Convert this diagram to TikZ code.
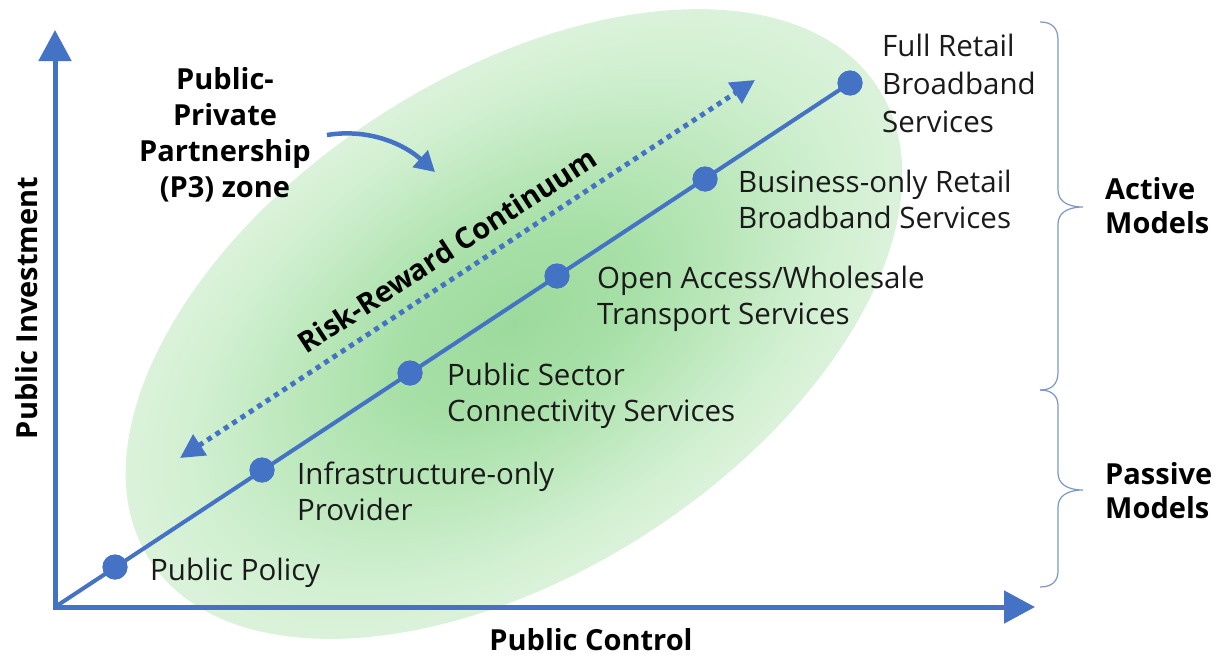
\documentclass[tikz,border=0pt]{standalone}
\usepackage{fontspec}
\setmainfont{Open Sans}
\usetikzlibrary{arrows.meta}
\definecolor{axblue}{HTML}{4472C4}
\definecolor{gA}{RGB}{156,218,156}
\definecolor{gA2}{RGB}{168,224,168}
\definecolor{gB}{RGB}{210,240,210}
\definecolor{gB2}{RGB}{238,248,238}
\definecolor{gC}{RGB}{247,252,247}
\definecolor{txt}{HTML}{1A1A1A}
\definecolor{bracec}{HTML}{7F97C8}
\pgfdeclareradialshading{pthree}{\pgfpoint{0bp}{0bp}}{color(0bp)=(gA); color(8bp)=(gA2); color(21bp)=(gB); color(34bp)=(gB2); color(50bp)=(gC)}
\begin{document}
\begin{tikzpicture}[x=1pt,y=-1pt,
  lbl/.style={font=\fontsize{29.5}{36}\selectfont, text=txt, inner sep=0pt, align=left, anchor=base west},
  boldlbl/.style={font=\fontsize{29}{36}\selectfont\bfseries, text=black, inner sep=0pt},
  dot/.style={circle, fill=axblue, minimum size=25pt, inner sep=0pt},
  axis/.style={draw=axblue, line width=5pt, {Triangle[length=31pt,width=32pt]}-{Triangle[length=31pt,width=32pt]}},
  bracepath/.style={draw=bracec, line width=1.2pt},
]
\fill[white] (0,0) rectangle (1222,656);
\useasboundingbox (0,0) rectangle (1222,656);
\begin{scope}[transform canvas={shift={(514pt,-324pt)},rotate=33}]
  \shade[shading=pthree] (0,0) ellipse [x radius=434, y radius=248];
\end{scope}

% axes
\coordinate (O) at (55,607);
\coordinate (ytip) at (55,30);
\coordinate (xtip) at (1035,607);
\draw[axis] (ytip) -- (O) -- (xtip);

% dotted risk-reward arrow
\coordinate (rrA) at (180,458);
\coordinate (rrB) at (755,80);
\draw[axblue, line width=5pt, dash pattern=on 5pt off 5pt,
  {Triangle[length=24pt,width=24pt]}-{Triangle[length=24pt,width=24pt]}] (rrA) -- (rrB);
\node[boldlbl, rotate=33] (rr) at (447,250) {Risk-Reward Continuum};

% main line and dots
\node[dot] (d1) at (115,567) {};
\node[dot] (d2) at (262,470) {};
\node[dot] (d3) at (410,373) {};
\node[dot] (d4) at (557,276) {};
\node[dot] (d5) at (705,179) {};
\node[dot] (d6) at (850,83) {};
\draw[axblue, line width=4pt] (O) -- (d6.center);
\foreach \n in {d1,d2,d3,d4,d5,d6} \fill[axblue] (\n) circle (12.5);

% labels (anchor at baseline of the last line)
\node[lbl] (l1) at (150,580) {Public Policy};
\node[lbl] (l2) at (297,520) {Infrastructure-only\\Provider};
\node[lbl] (l3) at (447,421) {Public Sector\\Connectivity Services};
\node[lbl] (l4) at (597,324) {Open Access/Wholesale\\Transport Services};
\node[lbl] (l5) at (738,228) {Business-only Retail\\Broadband Services};
\node[lbl, font=\fontsize{29.5}{38}\selectfont] (l6) at (882,132) {Full Retail\\Broadband\\Services};

% P3 label and arrow
\node[boldlbl, align=center, anchor=base] (p3) at (225,197) {Public-\\Private\\Partnership\\(P3) zone};
\coordinate (caS) at (327,135);
\coordinate (caE) at (435,172);
\draw[axblue, line width=4.5pt, -{Triangle[length=20pt,width=22pt]}] (caS) .. controls (370,128) and (405,145) .. (caE);

% axis labels
\node[boldlbl, anchor=base] (xl) at (591,650) {Public Control};
\node[boldlbl, anchor=base, rotate=90] (yl) at (37,308) {Public Investment};

% braces
\draw[bracepath] (1040,22) .. controls (1052,22) and (1058,28) .. (1058,40) -- (1058,190)
  .. controls (1058,200) and (1066,207) .. (1083,207)
  .. controls (1066,207) and (1058,214) .. (1058,224) -- (1058,372)
  .. controls (1058,384) and (1052,390) .. (1040,390);
\draw[bracepath] (1040,390) .. controls (1052,390) and (1058,396) .. (1058,406) -- (1058,473)
  .. controls (1058,483) and (1066,490) .. (1083,490)
  .. controls (1066,490) and (1058,497) .. (1058,507) -- (1058,571)
  .. controls (1058,581) and (1052,587) .. (1040,587);

\node[boldlbl, align=left, anchor=base west, font=\fontsize{29}{34}\selectfont\bfseries] (act) at (1105,233) {Active\\Models};
\node[boldlbl, align=left, anchor=base west, font=\fontsize{29}{34}\selectfont\bfseries] (pas) at (1105,518) {Passive\\Models};
\end{tikzpicture}
\end{document}
